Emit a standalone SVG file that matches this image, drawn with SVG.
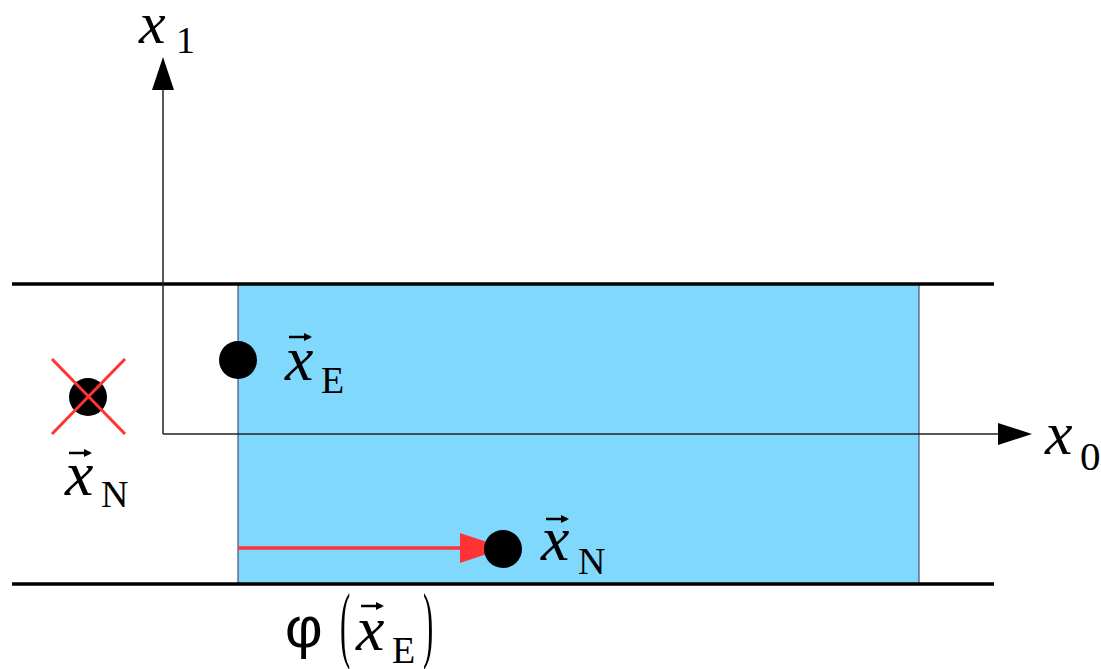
<svg xmlns="http://www.w3.org/2000/svg" width="1101" height="669" viewBox="0 0 1101 669">
<style>
.v{font-family:"Liberation Serif",serif;font-style:italic;fill:#000}
.s{font-family:"Liberation Serif",serif;fill:#000}
.ax{stroke:#222;stroke-width:1.5;fill:none}
.bd{stroke:#000;stroke-width:3.5}
.dot{fill:#000}
.vec{stroke:#000;stroke-width:2.5}
</style>
<defs>
<marker id="vh" markerWidth="8" markerHeight="8" refX="6" refY="4" orient="auto" markerUnits="userSpaceOnUse" viewBox="0 0 8 8"><path d="M0,0 L8,4 L0,8 Z" fill="#000"/></marker>
</defs>
<rect width="1101" height="669" fill="#fff"/>
<g id="strip">
<rect x="238" y="284" width="681" height="300" fill="#80d9fc" stroke="#335" stroke-width="1"/>
<line class="bd" x1="12" y1="284" x2="994" y2="284"/>
<line class="bd" x1="12" y1="584" x2="994" y2="584"/>
</g>
<g id="connectors">
<line class="ax" x1="163" y1="434" x2="163" y2="88"/>
<polygon points="163,57 152,90 174,90" fill="#000"/>
<line class="ax" x1="163" y1="434" x2="1000" y2="434"/>
<polygon points="1032,434 998,423 998,445" fill="#000"/>
<line x1="238" y1="548" x2="464" y2="548" stroke="#ff3333" stroke-width="3.5"/>
<polygon points="460,533 505,548 460,563" fill="#ff3333"/>
</g>
<g id="axis-x1">
<text class="v" x="139" y="43" font-size="60">x</text>
<text class="s" x="176" y="53" font-size="38">1</text>
</g>
<g id="axis-x0">
<text class="v" x="1045" y="454" font-size="62">x</text>
<text class="s" x="1080" y="470" font-size="41">0</text>
</g>
<g id="xE">
<circle class="dot" cx="238" cy="360" r="19"/>
<line class="vec" x1="289" y1="337" x2="310" y2="337" marker-end="url(#vh)"/>
<text class="v" x="285" y="380" font-size="64">x</text>
<text class="s" x="321" y="393" font-size="38">E</text>
</g>
<g id="xN-rejected">
<circle class="dot" cx="88" cy="397" r="19"/>
<line x1="52" y1="359" x2="125" y2="434" stroke="#ff3333" stroke-width="3"/>
<line x1="125" y1="359" x2="52" y2="434" stroke="#ff3333" stroke-width="3"/>
<line class="vec" x1="69" y1="453" x2="90" y2="453" marker-end="url(#vh)"/>
<text class="v" x="65" y="495" font-size="64">x</text>
<text class="s" x="101" y="507" font-size="38">N</text>
</g>
<g id="xN">
<circle class="dot" cx="503" cy="549" r="19"/>
<line class="vec" x1="546" y1="519" x2="567" y2="519" marker-end="url(#vh)"/>
<text class="v" x="541" y="560" font-size="64">x</text>
<text class="s" x="578" y="574" font-size="38">N</text>
</g>
<g id="phi">
<text x="285" y="647" font-size="58" style="font-family:'Liberation Sans',sans-serif">φ</text>
<text class="s" transform="translate(340,652) scale(0.7,1.9)" x="0" y="0" font-size="44">(</text>
<line class="vec" x1="361" y1="606" x2="382" y2="606" marker-end="url(#vh)"/>
<text class="v" x="356" y="650" font-size="64">x</text>
<text class="s" x="392" y="663" font-size="38">E</text>
<text class="s" transform="translate(423,652) scale(0.7,1.9)" x="0" y="0" font-size="44">)</text>
</g>
</svg>
